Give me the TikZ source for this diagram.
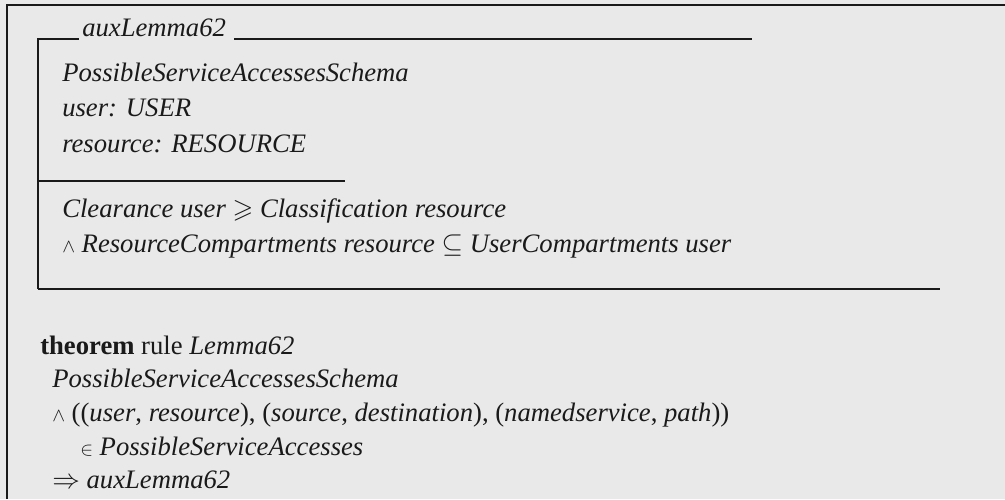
\documentclass[tikz,border=0pt]{standalone}
\usepackage{amssymb}
\usepackage{fontspec}
\setmainfont{Liberation Serif}
\definecolor{paper}{HTML}{E9E9E9}
\definecolor{ink}{HTML}{1A1A1A}
\newcommand{\andsym}{{\fontsize{15}{16}\selectfont$\wedge$}}
\newcommand{\insym}{{\fontsize{15}{16}\selectfont$\in$}}
\begin{document}
\begin{tikzpicture}[x=0.75pt,y=-0.75pt,
  txt/.style={anchor=base west, inner sep=0pt, text=ink,
    font=\fontsize{20}{24}\selectfont\itshape},
  frameline/.style={draw=ink, line width=1.6pt},
  boxline/.style={draw=ink, line width=0.9pt}]
% page background and bounds
\fill[paper] (0,0) rectangle (1005,499);
\useasboundingbox (0,0) rectangle (1005,499);

% outer frame (top and left edges)
\draw[frameline] (7,499) -- (7,5) -- (1005,5);

% schema box
\node[txt] (name) at (82,37) {auxLemma62};
\coordinate (tl) at (38,39);
\coordinate (tr) at (752,39);
\coordinate (ml) at (38,181);
\coordinate (mr) at (345,181);
\coordinate (bl) at (38,289);
\coordinate (br) at (940,289);
\draw[boxline] (bl) -- (tl) -- ([xshift=-2]tl -| name.west);
\draw[boxline] ([xshift=6]tr -| name.east) -- (tr);
\draw[boxline] (ml) -- (mr);
\draw[boxline] (bl) -- (br);

\node[txt] (incl) at (62,82) {PossibleServiceAccessesSchema};
\node[txt] (decu) at (62,117) {user: USER};
\node[txt] (decr) at (62,152) {resource: RESOURCE};
\node[txt] (pred1) at (62,217) {Clearance user $\geqslant$ Classification resource};
\node[txt] (pred2) at (62,252) {\andsym\ ResourceCompartments resource $\subseteq$ UserCompartments user};

% theorem
\node[txt] (thm) at (40,354) {\upshape\bfseries theorem\mdseries{} rule \itshape Lemma62};
\node[txt] (t1) at (52,387) {PossibleServiceAccessesSchema};
\node[txt] (t2) at (52,421) {\andsym\ \upshape((\itshape user\upshape, \itshape resource\upshape), (\itshape source\upshape, \itshape destination\upshape), (\itshape namedservice\upshape, \itshape path\upshape))};
\node[txt] (t3) at (80,455) {\insym\ PossibleServiceAccesses};
\node[txt] (t4) at (52,488) {$\Rightarrow$ auxLemma62};
\end{tikzpicture}
\end{document}
